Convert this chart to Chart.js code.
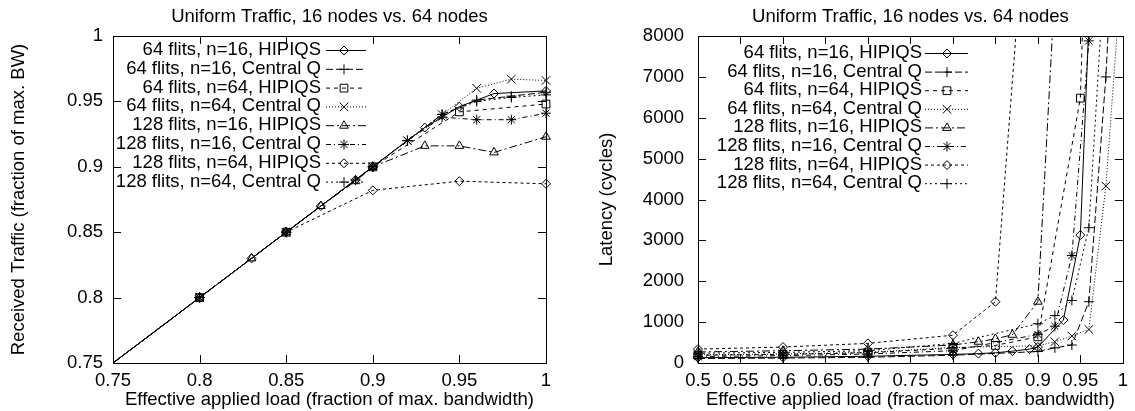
<!DOCTYPE html>
<html>
<head>
<meta charset="utf-8">
<script src="https://cdn.jsdelivr.net/npm/chart.js@4.4.1/dist/chart.umd.min.js"></script>
<style>
  body { margin: 0; background: #fff; }
  .wrap { position: absolute; top: 0; }
  #left { left: 0; }
  #right { left: 560px; }
</style>
</head>
<body>
<div class="wrap" id="left"><canvas id="recvChart" width="560" height="411"></canvas></div>
<div class="wrap" id="right"><canvas id="latChart" width="575" height="411"></canvas></div>
<script>
const TITLE = "Uniform Traffic, 16 nodes vs. 64 nodes";
const X_TITLE = "Effective applied load (fraction of max. bandwidth)";
const LABELS = [
  "64 flits, n=16, HIPIQS",
  "64 flits, n=16, Central Q",
  "64 flits, n=64, HIPIQS",
  "64 flits, n=64, Central Q",
  "128 flits, n=16, HIPIQS",
  "128 flits, n=16, Central Q",
  "128 flits, n=64, HIPIQS",
  "128 flits, n=64, Central Q",
];

// received traffic vs applied load  [load, received]
const RECV_64_N16_HIPIQS = [[0.7, 0.7], [0.8, 0.8], [0.83, 0.83], [0.85, 0.85], [0.87, 0.87], [0.89, 0.89], [0.9, 0.9], [0.93, 0.93], [0.95, 0.946], [0.97, 0.956], [1.0, 0.958]];
const RECV_64_N16_CENTRAL = [[0.7, 0.7], [0.8, 0.8], [0.85, 0.85], [0.9, 0.9], [0.92, 0.92], [0.94, 0.94], [0.96, 0.951], [0.98, 0.954], [1.0, 0.957]];
const RECV_64_N64_HIPIQS = [[0.7, 0.7], [0.8, 0.8], [0.85, 0.85], [0.9, 0.9], [0.95, 0.942], [1.0, 0.948]];
const RECV_64_N64_CENTRAL = [[0.7, 0.7], [0.8, 0.8], [0.85, 0.85], [0.9, 0.9], [0.92, 0.92], [0.94, 0.94], [0.96, 0.96], [0.98, 0.967], [1.0, 0.966]];
const RECV_128_N16_HIPIQS = [[0.7, 0.7], [0.8, 0.8], [0.83, 0.83], [0.85, 0.85], [0.87, 0.87], [0.89, 0.889], [0.9, 0.9], [0.93, 0.916], [0.95, 0.916], [0.97, 0.911], [1.0, 0.923]];
const RECV_128_N16_CENTRAL = [[0.7, 0.7], [0.8, 0.8], [0.85, 0.85], [0.9, 0.9], [0.92, 0.92], [0.94, 0.938], [0.96, 0.936], [0.98, 0.936], [1.0, 0.941]];
const RECV_128_N64_HIPIQS = [[0.7, 0.7], [0.8, 0.8], [0.85, 0.85], [0.9, 0.882], [0.95, 0.889], [1.0, 0.887]];
const RECV_128_N64_CENTRAL = [[0.7, 0.7], [0.8, 0.8], [0.85, 0.85], [0.89, 0.89], [0.9, 0.9], [0.92, 0.92], [0.94, 0.94], [0.96, 0.95], [0.98, 0.953], [1.0, 0.955]];

// latency (cycles) vs applied load  [load, latency]
const LAT_64_N16_HIPIQS = [[0.5, 130], [0.6, 140], [0.7, 165], [0.8, 210], [0.83, 230], [0.85, 250], [0.87, 290], [0.89, 340], [0.9, 390], [0.93, 1050], [0.95, 3130], [0.96, 8300]];
const LAT_64_N16_CENTRAL = [[0.5, 110], [0.6, 120], [0.7, 140], [0.8, 190], [0.9, 280], [0.92, 370], [0.94, 440], [0.96, 1500], [0.98, 7000], [1.0, 15000]];
const LAT_64_N64_HIPIQS = [[0.5, 190], [0.6, 210], [0.7, 250], [0.8, 360], [0.85, 430], [0.9, 640], [0.95, 6480], [0.96, 13000]];
const LAT_64_N64_CENTRAL = [[0.5, 200], [0.6, 220], [0.7, 260], [0.8, 380], [0.9, 420], [0.92, 520], [0.94, 660], [0.96, 820], [0.98, 4330], [1.0, 10000]];
const LAT_128_N16_HIPIQS = [[0.5, 270], [0.6, 300], [0.7, 340], [0.8, 440], [0.83, 520], [0.85, 590], [0.87, 690], [0.9, 1500], [0.93, 13000]];
const LAT_128_N16_CENTRAL = [[0.5, 160], [0.6, 180], [0.7, 220], [0.8, 300], [0.9, 700], [0.92, 900], [0.94, 2630], [0.96, 7880], [0.98, 20000]];
const LAT_128_N64_HIPIQS = [[0.5, 340], [0.6, 390], [0.7, 480], [0.8, 680], [0.85, 1500], [0.9, 15000]];
const LAT_128_N64_CENTRAL = [[0.5, 240], [0.6, 260], [0.7, 300], [0.8, 480], [0.9, 960], [0.92, 1160], [0.94, 1530], [0.96, 3310], [0.98, 10200]];

const RECV = [RECV_64_N16_HIPIQS, RECV_64_N16_CENTRAL, RECV_64_N64_HIPIQS, RECV_64_N64_CENTRAL,
  RECV_128_N16_HIPIQS, RECV_128_N16_CENTRAL, RECV_128_N64_HIPIQS, RECV_128_N64_CENTRAL];
const LAT = [LAT_64_N16_HIPIQS, LAT_64_N16_CENTRAL, LAT_64_N64_HIPIQS, LAT_64_N64_CENTRAL,
  LAT_128_N16_HIPIQS, LAT_128_N16_CENTRAL, LAT_128_N64_HIPIQS, LAT_128_N64_CENTRAL];

// gnuplot-ish line types
const STYLES = [
  { dash: [], point: "rectRot", r: 4.5 },
  { dash: [7, 3], point: "cross", r: 5 },
  { dash: [4, 4], point: "rect", r: 5.5 },
  { dash: [1, 2], point: "crossRot", r: 6 },
  { dash: [8, 3, 2, 3], point: "triangle", r: 5 },
  { dash: [5, 3, 1, 3], point: "star", r: 5 },
  { dash: [3, 3], point: "rectRot", r: 4.5 },
  { dash: [2, 3], point: "cross", r: 5 },
];

const FONT = "'Liberation Sans', Arial, sans-serif";
const FS = 18.5;
const TICK = 8;

const toDatasets = (series, clip) =>
  series.map((pts, i) => ({
    label: LABELS[i],
    data: pts,
    borderColor: "#000",
    borderWidth: 1,
    borderDash: STYLES[i].dash,
    pointStyle: STYLES[i].point,
    pointRadius: STYLES[i].r,
    pointBorderWidth: 1,
    pointBorderColor: "#000",
    pointBackgroundColor: "rgba(0,0,0,0)",
    tension: 0,
    clip: clip,
  }));

// border + inward ticks on all four sides
const frame = {
  id: "frame",
  afterDatasetsDraw(chart) {
    const { ctx, chartArea: a } = chart;
    const { x, y } = chart.scales;
    ctx.save();
    ctx.strokeStyle = "#000";
    ctx.lineWidth = 1;
    ctx.setLineDash([]);
    ctx.beginPath();
    x.ticks.forEach((t) => {
      const px = Math.round(x.getPixelForValue(t.value)) + 0.5;
      ctx.moveTo(px, a.bottom);
      ctx.lineTo(px, a.bottom - TICK);
      ctx.moveTo(px, a.top);
      ctx.lineTo(px, a.top + TICK);
    });
    y.ticks.forEach((t) => {
      const py = Math.round(y.getPixelForValue(t.value)) + 0.5;
      ctx.moveTo(a.left, py);
      ctx.lineTo(a.left + TICK, py);
      ctx.moveTo(a.right, py);
      ctx.lineTo(a.right - TICK, py);
    });
    ctx.stroke();
    ctx.strokeRect(Math.round(a.left) + 0.5, Math.round(a.top) + 0.5, Math.round(a.width), Math.round(a.height));
    ctx.restore();
  },
};

// key: right aligned text, then line sample with marker
const gnuLegend = {
  id: "gnuLegend",
  afterDraw(chart, args, opts) {
    const ctx = chart.ctx;
    ctx.save();
    ctx.font = FS + "px " + FONT;
    ctx.textAlign = "right";
    ctx.textBaseline = "middle";
    chart.data.datasets.forEach((ds, i) => {
      const y = opts.top + i * opts.row;
      ctx.fillStyle = "#000";
      ctx.fillText(ds.label, opts.textRight, y);
      ctx.strokeStyle = "#000";
      ctx.lineWidth = 1;
      ctx.setLineDash(ds.borderDash);
      ctx.beginPath();
      ctx.moveTo(opts.lineStart, y + 0.5);
      ctx.lineTo(opts.lineEnd, y + 0.5);
      ctx.stroke();
      ctx.setLineDash([]);
      ctx.fillStyle = "rgba(0,0,0,0)";
      Chart.helpers.drawPoint(ctx, { pointStyle: ds.pointStyle, radius: ds.pointRadius, borderWidth: 1, rotation: 0 }, opts.markerX, y + 0.5);
    });
    ctx.restore();
  },
};

const tickFmt = (v) => String(Math.round(v * 100) / 100);

function makeChart(id, datasets, c) {
  return new Chart(document.getElementById(id), {
    type: "line",
    data: { datasets },
    options: {
      responsive: false,
      animation: false,
      events: [],
      layout: { padding: { left: 0, right: c.padRight, top: 0, bottom: 0 } },
      plugins: {
        legend: { display: false },
        tooltip: { enabled: false },
        title: {
          display: true,
          text: TITLE,
          fullSize: false,
          color: "#000",
          font: { family: FONT, size: FS, weight: "normal", lineHeight: 1 },
          padding: { top: 8, bottom: 9.5 },
        },
        gnuLegend: c.legend,
      },
      scales: {
        x: {
          type: "linear",
          min: c.xMin,
          max: 1,
          ticks: { stepSize: 0.05, callback: tickFmt, color: "#000", font: { family: FONT, size: FS }, padding: 7, maxRotation: 0, autoSkip: false },
          grid: { display: false, drawTicks: false },
          border: { display: false },
          title: { display: true, text: X_TITLE, color: "#000", font: { family: FONT, size: FS }, padding: 0 },
          afterFit: (s) => { s.height = 48; },
        },
        y: {
          min: c.yMin,
          max: c.yMax,
          ticks: { stepSize: c.yStep, callback: c.yFmt, color: "#000", font: { family: FONT, size: FS }, padding: c.yPad, autoSkip: false },
          grid: { display: false, drawTicks: false },
          border: { display: false },
          title: { display: true, text: c.yTitle, color: "#000", font: { family: FONT, size: FS }, padding: c.yTitlePad },
          afterFit: (s) => { s.width = c.yWidth; },
        },
      },
    },
    plugins: [frame, gnuLegend],
  });
}

makeChart("recvChart", toDatasets(RECV, { left: 0, bottom: 0, top: 6, right: 7 }), {
  padRight: 14,
  xMin: 0.75,
  yMin: 0.75,
  yMax: 1,
  yStep: 0.05,
  yFmt: tickFmt,
  yPad: 10,
  yWidth: 113,
  yTitle: "Received Traffic (fraction of max. BW)",
  yTitlePad: 8,
  legend: { top: 50, row: 18.8, textRight: 321, lineStart: 326, lineEnd: 366, markerX: 344 },
});

makeChart("latChart", toDatasets(LAT, { left: 7, bottom: 7, top: 0, right: 7 }), {
  padRight: 4,
  xMin: 0.5,
  yMin: 0,
  yMax: 8000,
  yStep: 1000,
  yFmt: (v) => String(v),
  yPad: 14,
  yWidth: 138,
  yTitle: "Latency (cycles)",
  yTitlePad: 36,
  legend: { top: 53, row: 18.6, textRight: 362, lineStart: 365, lineEnd: 408, markerX: 387 },
});
</script>
</body>
</html>
